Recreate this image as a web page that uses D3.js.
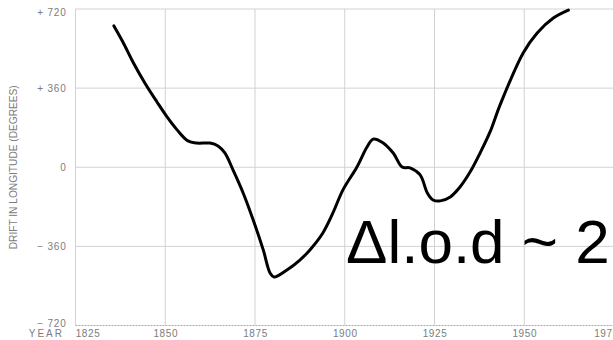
<!DOCTYPE html>
<html>
<head>
<meta charset="utf-8">
<script src="https://cdn.jsdelivr.net/npm/d3@7"></script>
<style>
  html, body { margin: 0; padding: 0; background: #fff; }
  svg { display: block; }
</style>
</head>
<body>
<svg id="chart" width="613" height="340"></svg>
<script>
// Drift in longitude (degrees) by year
const years = [1835.7, 1838.2, 1841.0, 1844.4, 1847.7, 1850.5, 1853.3, 1856.3, 1858.8, 1862.5,
  1864.7, 1866.6, 1868.9, 1871.7, 1874.5, 1877.3, 1879.2, 1880.3, 1883.9, 1887.5,
  1890.3, 1893.9, 1896.7, 1899.5, 1903.4, 1906.2, 1907.9, 1910.4, 1913.5, 1916.0,
  1918.2, 1921.0, 1923.0, 1924.6, 1926.6, 1929.4, 1932.1, 1934.9, 1937.7, 1940.5,
  1943.3, 1949.7, 1953.6, 1958.1, 1962.3];
const drift = [643, 570, 479, 381, 297, 229, 170, 120, 110, 110,
  97, 65, -13, -117, -240, -376, -481, -499, -467, -422,
  -376, -299, -208, -103, 1, 92, 128, 114, 65, 1,
  -3, -35, -117, -149, -153, -135, -90, -22, 65, 162,
  285, 520, 611, 679, 715];

const yearTicks = [1825, 1850, 1875, 1900, 1925, 1950, 1975];
const driftTicks = [720, 360, 0, -360, -720];
const driftTickLabels = ["+ 720", "+ 360", "0", "\u2212 360", "\u2212 720"];
const axisTitle = "DRIFT IN LONGITUDE (DEGREES)";
const yearLabel = "YEAR";
const annotation = "\u0394l.o.d ~ 2";

const svg = d3.select("#chart");
const x = d3.scaleLinear().domain([1825, 1975]).range([75.5, 614]);
const y = d3.scaleLinear().domain([-720, 720]).range([325.5, 9]);

const gridColor = "#d2d2d2";
const labelColor = "#7c7c7c";
const font = "'Liberation Sans', Arial, sans-serif";

// Horizontal grid lines
svg.append("g")
  .selectAll("line")
  .data(driftTicks)
  .join("line")
  .attr("x1", x(1825)).attr("x2", 613)
  .attr("y1", d => y(d)).attr("y2", d => y(d))
  .attr("stroke", d => d === -720 ? "#a8a8a8" : gridColor)
  .attr("stroke-width", 1)
  .attr("stroke-dasharray", d => d === -720 ? "2,1" : null);

// Vertical grid lines
svg.append("g")
  .selectAll("line")
  .data(yearTicks.filter(t => t < 1975))
  .join("line")
  .attr("x1", d => x(d)).attr("x2", d => x(d))
  .attr("y1", y(720)).attr("y2", y(-720))
  .attr("stroke", gridColor)
  .attr("stroke-width", 1);

// Y axis tick labels
const yAxis = d3.axisLeft(y)
  .tickValues(driftTicks)
  .tickSize(0)
  .tickPadding(9)
  .tickFormat((d, i) => driftTickLabels[i]);
const gy = svg.append("g").attr("transform", `translate(${x(1825)},0)`).call(yAxis);
gy.select(".domain").remove();
gy.selectAll("text")
  .attr("fill", labelColor)
  .style("font-family", font)
  .style("font-size", "10px")
  .attr("letter-spacing", "0.8")
  .attr("dy", d => d === 720 ? "0.65em" : d === -720 ? "0.05em" : "0.32em");

// X axis tick labels
const xAxis = d3.axisBottom(x)
  .tickValues(yearTicks)
  .tickSize(0)
  .tickPadding(4)
  .tickFormat(d3.format("d"));
const gx = svg.append("g").attr("transform", `translate(0,${y(-720)})`).call(xAxis);
gx.select(".domain").remove();
gx.selectAll("text")
  .attr("fill", labelColor)
  .style("font-family", font)
  .style("font-size", "10px")
  .attr("letter-spacing", "0.6")
  .attr("dx", d => d === 1825 ? "12" : d === 1975 ? "-8" : "0");

svg.append("text")
  .attr("x", 64).attr("y", 337)
  .attr("text-anchor", "end")
  .attr("fill", labelColor)
  .style("font-family", font)
  .style("font-size", "10px")
  .attr("letter-spacing", "2")
  .text(yearLabel);

// Rotated axis title
svg.append("text")
  .attr("transform", `translate(17,${y(0)}) rotate(-90)`)
  .attr("text-anchor", "middle")
  .attr("fill", labelColor)
  .style("font-family", font)
  .style("font-size", "10.5px")
  .attr("textLength", 164)
  .attr("lengthAdjust", "spacingAndGlyphs")
  .text(axisTitle);

// Drift curve
const line = d3.line()
  .x((d, i) => x(years[i]))
  .y(d => y(d))
  .curve(d3.curveCatmullRom.alpha(0.5));

svg.append("path")
  .datum(drift)
  .attr("d", line)
  .attr("fill", "none")
  .attr("stroke", "#000")
  .attr("stroke-width", 3)
  .attr("stroke-linejoin", "round")
  .attr("stroke-linecap", "round");

// Annotation
svg.append("text")
  .attr("x", 346).attr("y", 263)
  .attr("fill", "#000")
  .style("font-family", font)
  .style("font-size", "62px")
  .text(annotation);
</script>
</body>
</html>
